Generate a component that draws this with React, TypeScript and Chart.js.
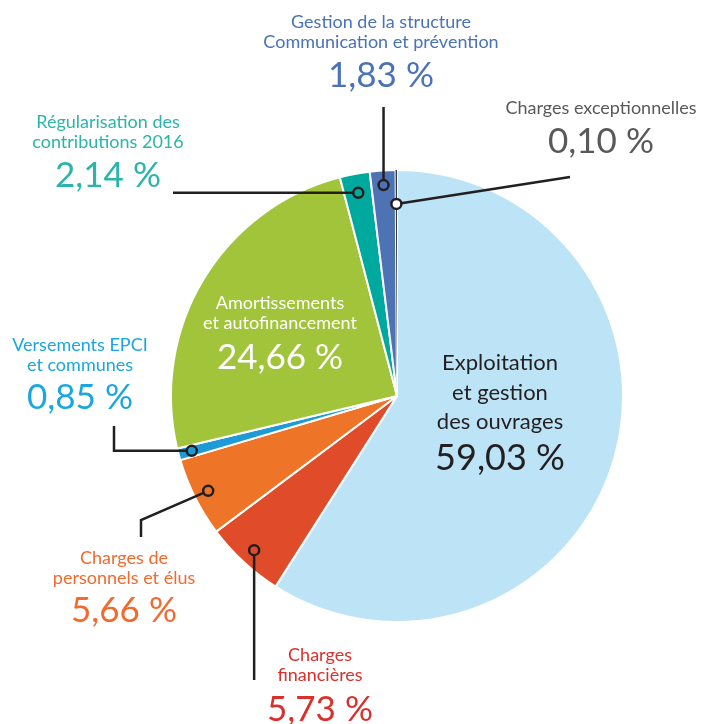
import React, { useEffect, useRef } from "react";
import { Chart, registerables } from "chart.js";

Chart.register(...registerables);

// ---- Data ----
const categories = [
  "Exploitation et gestion des ouvrages",
  "Charges financières",
  "Charges de personnels et élus",
  "Versements EPCI et communes",
  "Amortissements et autofinancement",
  "Régularisation des contributions 2016",
  "Gestion de la structure Communication et prévention",
  "Charges exceptionnelles",
];
const values = [59.03, 5.73, 5.66, 0.85, 24.66, 2.14, 1.83, 0.1];
const labelLines = [
  ["Exploitation", "et gestion", "des ouvrages"],
  ["Charges", "financières"],
  ["Charges de", "personnels et élus"],
  ["Versements EPCI", "et communes"],
  ["Amortissements", "et autofinancement"],
  ["Régularisation des", "contributions 2016"],
  ["Gestion de la structure", "Communication et prévention"],
  ["Charges exceptionnelles"],
];

// ---- Styles ----
const sliceColors = ["#BDE3F7", "#E04B2A", "#EE7427", "#1E9AD6", "#A2C43A", "#00A99D", "#4E73B5", "#3A3A3A"];
const sliceBorders = [2, 2, 2, 2, 2, 2, 2, 0];
const textColors = ["#231F20", "#D9302C", "#F26A2E", "#1AA6E0", "#FFFFFF", "#2BB5AA", "#4A72B8", "#595959"];

// ---- Label layout (annotation positions) ----
type Layout = {
  cx: number; // text centre x
  y: number; // first line centre y
  gap: number; // line spacing
  pctY: number; // percentage centre y
  font: number;
  pctFont: number;
  marker?: number; // marker radius fraction
  path?: Array<[number | null, number | null]>;
  markerFill?: string;
};
const layouts: Layout[] = [
  { cx: 500, y: 363, gap: 29.5, pctY: 458, font: 22, pctFont: 36 },
  { cx: 320, y: 655, gap: 20.5, pctY: 710, font: 18, pctFont: 35, marker: 0.93, path: [[null, 680]] },
  { cx: 124, y: 558, gap: 20.5, pctY: 611, font: 18, pctFont: 35, marker: 0.935, path: [[141, 520], [141, 537]] },
  { cx: 80, y: 345, gap: 20.5, pctY: 398, font: 18, pctFont: 35, marker: 0.94, path: [[114, null], [114, 426]] },
  { cx: 280, y: 303, gap: 20.5, pctY: 358, font: 18, pctFont: 35 },
  { cx: 108, y: 122, gap: 20.5, pctY: 176, font: 18, pctFont: 35, marker: 0.915, path: [[173, null]] },
  { cx: 381, y: 22, gap: 20.5, pctY: 76, font: 18, pctFont: 35, marker: 0.935, path: [[null, 107]] },
  { cx: 601, y: 108, gap: 20.5, pctY: 142, font: 18, pctFont: 35, marker: 0.85, path: [[570, 177]], markerFill: "#FFFFFF" },
];

const FONT = "Lato, 'Open Sans', sans-serif";

const fmt = (v: number) => v.toFixed(2).replace(".", ",") + " %";

const labelPlugin = {
  id: "pieLabels",
  afterDraw(chart: any) {
    const ctx = chart.ctx as CanvasRenderingContext2D;
    const meta = chart.getDatasetMeta(0);
    ctx.save();
    meta.data.forEach((arc: any, i: number) => {
      const L = layouts[i];
      const p = arc.getProps(["x", "y", "startAngle", "endAngle", "outerRadius"], true);
      const mid = (p.startAngle + p.endAngle) / 2;
      if (L.marker) {
        const mx = p.x + Math.cos(mid) * p.outerRadius * L.marker;
        const my = p.y + Math.sin(mid) * p.outerRadius * L.marker;
        ctx.beginPath();
        ctx.moveTo(mx, my);
        let px = mx, py = my;
        (L.path || []).forEach(([qx, qy]) => {
          px = qx === null ? px : qx;
          py = qy === null ? py : qy;
          ctx.lineTo(px, py);
        });
        ctx.strokeStyle = "#231F20";
        ctx.lineWidth = 2.5;
        ctx.lineJoin = "miter";
        ctx.stroke();
        ctx.beginPath();
        ctx.arc(mx, my, 5, 0, Math.PI * 2);
        ctx.fillStyle = L.markerFill || sliceColors[i];
        ctx.fill();
        ctx.lineWidth = 2.5;
        ctx.stroke();
      }
      ctx.fillStyle = textColors[i];
      ctx.textAlign = "center";
      ctx.textBaseline = "middle";
      ctx.font = `${L.font}px ${FONT}`;
      labelLines[i].forEach((t, k) => ctx.fillText(t, L.cx, L.y + k * L.gap));
      ctx.font = `${L.pctFont}px ${FONT}`;
      ctx.fillText(fmt(values[i]), L.cx, L.pctY);
    });
    ctx.restore();
  },
};

export default function App() {
  const ref = useRef<HTMLCanvasElement | null>(null);
  useEffect(() => {
    if (!ref.current) return;
    const chart = new Chart(ref.current, {
      type: "pie",
      data: {
        labels: categories,
        datasets: [
          {
            data: values,
            backgroundColor: sliceColors,
            borderColor: "#FFFFFF",
            borderWidth: sliceBorders,
          },
        ],
      },
      options: {
        responsive: false,
        animation: false,
        layout: { padding: { left: 170, right: 78, top: 169, bottom: 101 } },
        plugins: { legend: { display: false }, tooltip: { enabled: false } },
      },
      plugins: [labelPlugin],
    });
    return () => chart.destroy();
  }, []);
  return (
    <div style={{ position: "fixed", left: 0, top: 0, width: 702, height: 724, background: "#fff" }}>
      <canvas ref={ref} width={702} height={724} style={{ width: 702, height: 724 }} />
    </div>
  );
}
